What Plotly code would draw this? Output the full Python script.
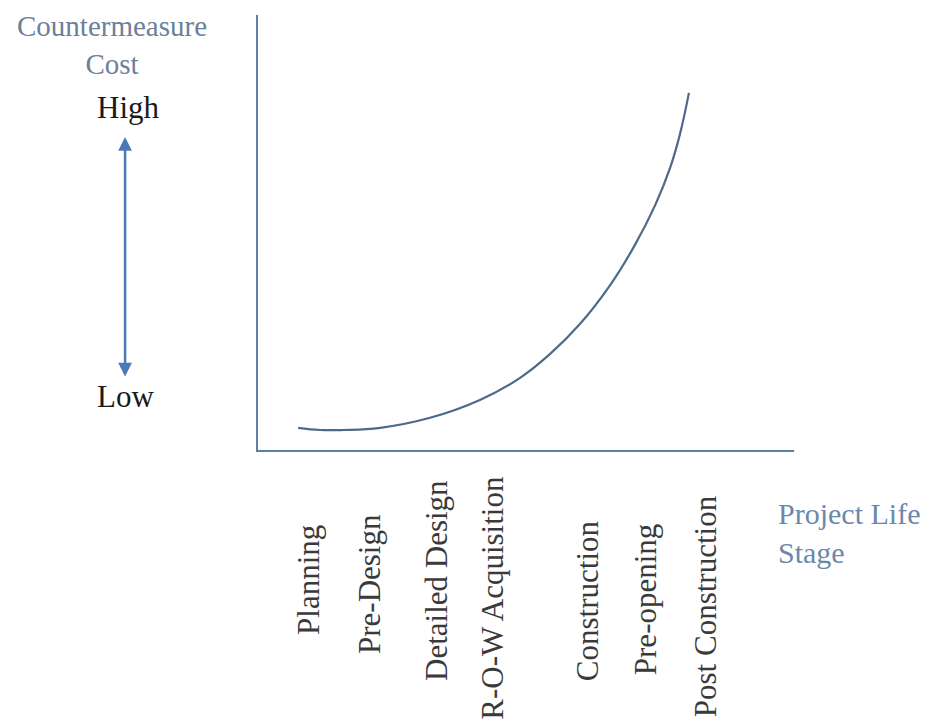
import plotly.graph_objects as go

# project stages and where they sit along the life-stage axis
stages = ['Planning', 'Pre-Design', 'Detailed Design', 'R-O-W Acquisition',
          'Construction', 'Pre-opening', 'Post Construction']
stage_x = [0.93, 2.09, 3.34, 4.38, 6.16, 7.22, 8.34]
# vertical centre of each rotated label (paper units, below the axis)
label_mid = [-0.299, -0.308, -0.301, -0.340, -0.347, -0.343, -0.359]

# cost curve (axis units 0-10)
curve_x = [0.75, 1.16, 1.59, 2.28, 3.21, 4.14, 4.89, 5.45, 6.01, 6.57, 7.03, 7.41, 7.69, 7.87, 8.04]
curve_y = [0.51, 0.46, 0.46, 0.51, 0.74, 1.15, 1.66, 2.21, 2.90, 3.79, 4.71, 5.63, 6.49, 7.25, 8.21]

serif = 'Liberation Serif'
fs = 31

fig = go.Figure()
fig.add_trace(go.Scatter(x=curve_x, y=curve_y, mode='lines',
                         line=dict(color='#4e6a8a', width=2.2, shape='spline', smoothing=1.2),
                         hoverinfo='skip', showlegend=False))

for name, sx, sy in zip(stages, stage_x, label_mid):
    fig.add_annotation(x=sx, y=sy, xref='x', yref='paper', text=name,
                       textangle=-90, showarrow=False, xanchor='center', yanchor='middle',
                       font=dict(family=serif, size=fs, color='#3a3a3a'))

# y-axis caption and the high/low arrow
fig.add_annotation(x=-0.273, y=1.016, xref='paper', yref='paper',
                   text='Countermeasure<br>Cost', showarrow=False,
                   xanchor='center', yanchor='top', align='center',
                   font=dict(family=serif, size=29, color='#6b8099'))
fig.add_annotation(x=-0.242, y=0.788, xref='paper', yref='paper', text='High',
                   showarrow=False, xanchor='center', yanchor='middle',
                   font=dict(family=serif, size=fs, color='#1a1a1a'))
fig.add_annotation(x=-0.248, y=0.124, xref='paper', yref='paper', text='Low',
                   showarrow=False, xanchor='center', yanchor='middle',
                   font=dict(family=serif, size=fs, color='#1a1a1a'))
fig.add_annotation(x=-0.248, y=0.7195, xref='paper', yref='paper', text='',
                   showarrow=True, ax=0, ay=241, arrowside='end+start',
                   arrowhead=2, arrowsize=1.1, arrowwidth=2.5, arrowcolor='#4a7ab5')

# x-axis caption
fig.add_annotation(x=0.967, y=-0.191, xref='paper', yref='paper',
                   text='Project Life<br>Stage', showarrow=False,
                   xanchor='left', yanchor='middle', align='left',
                   font=dict(family=serif, size=30, color='#6b88aa'))

# page body adds an 8px offset, so the figure is 8px smaller than the window
fig.update_layout(width=924, height=717,
                  margin=dict(l=250, r=138, t=7, b=275),
                  plot_bgcolor='white', paper_bgcolor='white')
fig.update_xaxes(range=[0, 10], showline=True, linewidth=2, linecolor='#5d7fa0',
                 showgrid=False, zeroline=False, showticklabels=False, ticks='')
fig.update_yaxes(range=[0, 10], showline=True, linewidth=2, linecolor='#5d7fa0',
                 showgrid=False, zeroline=False, showticklabels=False, ticks='')

fig.write_html('out.html')
